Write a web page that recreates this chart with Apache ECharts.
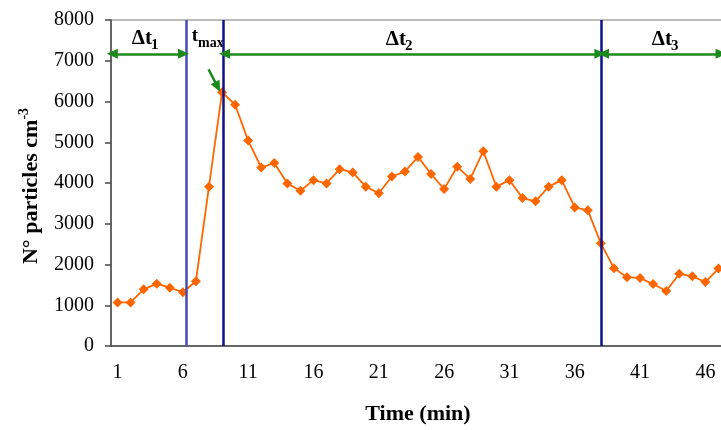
<!DOCTYPE html>
<html>
<head>
<meta charset="utf-8">
<script src="https://cdn.jsdelivr.net/npm/echarts@6/dist/echarts.min.js"></script>
<style>
  html, body { margin: 0; padding: 0; background: #fff; }
  #wrap { width: 721px; height: 430px; overflow: hidden; position: relative; }
  #chart { width: 725px; height: 430px; position: absolute; left: 0; top: 0; }
</style>
</head>
<body>
<div id="wrap"><div id="chart"></div></div>
<script>
// particle counts, one reading per minute
var minutes = [];
for (var i = 1; i <= 47; i++) minutes.push(String(i));

var particles = [1070, 1070, 1390, 1530, 1430, 1320, 1590, 3910, 6230, 5920,
    5040, 4380, 4490, 3990, 3810, 4070, 3990, 4340, 4260, 3910,
    3750, 4160, 4280, 4640, 4220, 3850, 4400, 4100, 4780, 3910,
    4070, 3630, 3550, 3910, 4070, 3400, 3330, 2520, 1910, 1690,
    1670, 1520, 1350, 1770, 1710, 1570, 1900];

// interval boundaries (in minutes) and the arrow level
var markers = [6.25, 9.12, 38.05];
var arrowY = 7170;
var spans = [[0.6, 6.05], [9.2, 37.92], [38.2, 47.2]];

var chart = echarts.init(document.getElementById('chart'));

var serif = 'Liberation Serif';
var green = '#1b8a1b';

var option = {
    backgroundColor: '#fff',
    textStyle: { fontFamily: serif, color: '#000' },
    grid: {
        left: 111,
        top: 20,
        right: 0,
        height: 330,
        show: true,
        borderColor: '#a8a8a8',
        borderWidth: 1.5
    },
    xAxis: [
        {
            type: 'category',
            data: minutes,
            boundaryGap: true,
            name: 'Time (min)',
            nameLocation: 'middle',
            nameGap: 57,
            nameTextStyle: { fontFamily: serif, fontSize: 22, fontWeight: 'bold', color: '#000' },
            axisLine: { lineStyle: { color: '#4a4a4a', width: 1.5 } },
            axisTick: { interval: 4, length: 5, lineStyle: { color: '#4a4a4a', width: 1.5 } },
            axisLabel: { interval: 4, fontFamily: serif, fontSize: 20, color: '#000', margin: 17 },
            splitLine: { show: false }
        },
        {
            type: 'value',
            min: 0.5,
            max: 47.5,
            show: false
        }
    ],
    yAxis: {
        type: 'value',
        min: 0,
        max: 8000,
        interval: 1000,
        axisLine: { show: true, lineStyle: { color: '#4a4a4a', width: 1.5 } },
        axisTick: { show: true, length: 6, lineStyle: { color: '#4a4a4a', width: 1.5 } },
        axisLabel: {
            fontFamily: serif, fontSize: 20, color: '#000', margin: 17,
            formatter: function (v) { return String(v); }
        },
        splitLine: { show: false }
    },
    graphic: [
        {
            type: 'text',
            x: 31,
            y: 186,
            rotation: Math.PI / 2,
            style: {
                text: '{a|N° particles cm}{s|-3}',
                textAlign: 'center',
                textVerticalAlign: 'middle',
                rich: {
                    a: { fontFamily: serif, fontSize: 22, fontWeight: 'bold', fill: '#000' },
                    s: { fontFamily: serif, fontSize: 14, fontWeight: 'bold', fill: '#000', padding: [0, 0, 14, 0] }
                }
            }
        },
        { type: 'text', x: 152, y: 39, style: { text: 'Δt', fontFamily: serif, fontSize: 21, fontWeight: 'bold', fill: '#000', textAlign: 'right', textVerticalAlign: 'middle' } },
        { type: 'text', x: 151, y: 45, style: { text: '1', fontFamily: serif, fontSize: 15, fontWeight: 'bold', fill: '#000', textAlign: 'left', textVerticalAlign: 'middle' } },
        { type: 'text', x: 406, y: 40, style: { text: 'Δt', fontFamily: serif, fontSize: 21, fontWeight: 'bold', fill: '#000', textAlign: 'right', textVerticalAlign: 'middle' } },
        { type: 'text', x: 405, y: 46, style: { text: '2', fontFamily: serif, fontSize: 15, fontWeight: 'bold', fill: '#000', textAlign: 'left', textVerticalAlign: 'middle' } },
        { type: 'text', x: 672, y: 40, style: { text: 'Δt', fontFamily: serif, fontSize: 21, fontWeight: 'bold', fill: '#000', textAlign: 'right', textVerticalAlign: 'middle' } },
        { type: 'text', x: 671, y: 46, style: { text: '3', fontFamily: serif, fontSize: 15, fontWeight: 'bold', fill: '#000', textAlign: 'left', textVerticalAlign: 'middle' } },
        { type: 'text', x: 198, y: 36, style: { text: 't', fontFamily: serif, fontSize: 19, fontWeight: 'bold', fill: '#000', textAlign: 'right', textVerticalAlign: 'middle' } },
        { type: 'text', x: 198, y: 43, style: { text: 'max', fontFamily: serif, fontSize: 14, fontWeight: 'bold', fill: '#000', textAlign: 'left', textVerticalAlign: 'middle' } }
    ],
    series: [
        {
            name: 'particles',
            type: 'line',
            data: particles,
            symbol: 'diamond',
            symbolSize: 10,
            showAllSymbol: true,
            itemStyle: { color: '#ff6600' },
            lineStyle: { color: '#ff6600', width: 1.8 },
            z: 3
        },
        {
            // vertical markers
            type: 'line',
            xAxisIndex: 1,
            data: [],
            markLine: {
                silent: true,
                symbol: ['none', 'none'],
                label: { show: false },
                animation: false,
                data: [
                    { xAxis: markers[0], lineStyle: { color: '#4a4ab4', width: 2.5, type: 'solid' } },
                    { xAxis: markers[1], lineStyle: { color: '#10108a', width: 2.5, type: 'solid' } },
                    { xAxis: markers[2], lineStyle: { color: '#10108a', width: 2.5, type: 'solid' } }
                ]
            },
            z: 4
        },
        {
            // green span arrows and the pointer to the peak
            type: 'line',
            xAxisIndex: 1,
            data: [],
            markLine: {
                silent: true,
                symbol: ['triangle', 'triangle'],
                symbolSize: [10, 11],
                label: { show: false },
                animation: false,
                lineStyle: { color: green, width: 2.5, type: 'solid' },
                itemStyle: { color: green },
                data: spans.map(function (s) {
                    return [{ coord: [s[0], arrowY] }, { coord: [s[1], arrowY] }];
                }).concat([
                    [{ coord: [7.97, 6790], symbol: 'none' }, { coord: [8.66, 6360], symbol: 'triangle' }]
                ])
            },
            z: 5
        }
    ]
};

chart.setOption(option);
</script>
</body>
</html>
